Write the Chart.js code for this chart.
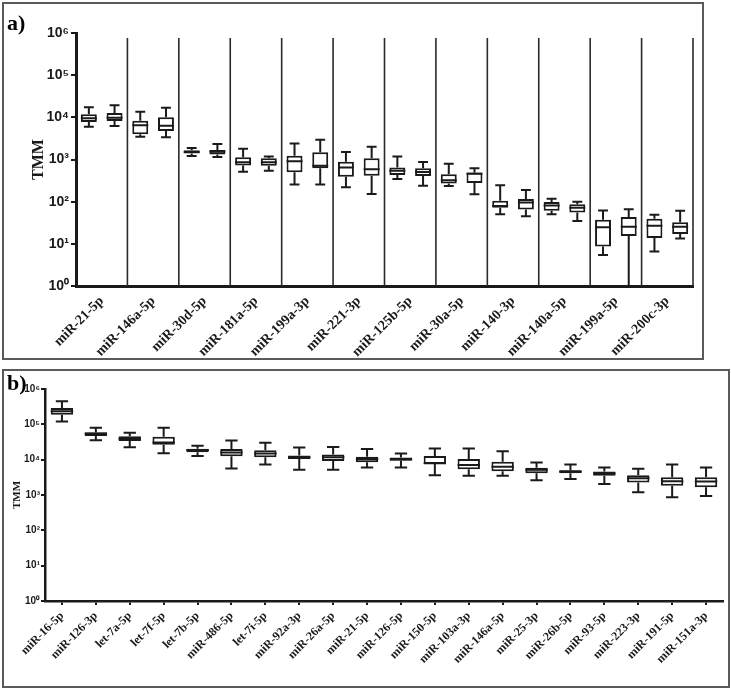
<!DOCTYPE html>
<html><head><meta charset="utf-8">
<script src="https://cdn.jsdelivr.net/npm/chart.js@4.4.1/dist/chart.umd.min.js"></script>
<style>
html,body{margin:0;padding:0;background:#fff;width:731px;height:688px;overflow:hidden}
.panel{position:absolute;border:2px solid #5a5a5a;background:#fff;box-sizing:border-box}
#pa{left:2px;top:2px;width:702px;height:358px}
#pb{left:2px;top:369px;width:728px;height:319px}
.tag{position:absolute;font:bold 22px "Liberation Serif",serif;color:#000;line-height:22px}
canvas{position:absolute;left:0;top:0}
</style></head>
<body>
<div class="panel" id="pa"><canvas id="ca" width="698" height="354"></canvas><div class="tag" style="left:3px;top:8px">a)</div></div>
<div class="panel" id="pb"><canvas id="cb" width="724" height="315"></canvas><div class="tag" style="left:3px;top:1px">b)</div></div>
<script>
// ---------- Panel a ----------
const labelsA = ['miR-21-5p','miR-146a-5p','miR-30d-5p','miR-181a-5p','miR-199a-3p','miR-221-3p','miR-125b-5p','miR-30a-5p','miR-140-3p','miR-140a-5p','miR-199a-5p','miR-200c-3p'];
const groupsA = ['1','2'];
const aMin = [6000,6200, 3470,3380, 1210,1150, 510,540, 257,257, 220,152, 345,237, 236,149, 50,45, 50,35, 5.4,1, 6.6,13.3];
const aQ1  = [7700,8200, 3960,4770, 1380,1320, 725,710, 500,617, 390,413, 430,405, 268,276, 72,65, 61,55, 8.7,15.3, 13.8,17];
const aMed = [9500,9800, 6450,6300, 1500,1540, 855,860, 910,713, 650,585, 540,505, 323,460, 79,96, 81,72, 24.6,25.5, 27,25.5];
const aQ3  = [11800,12700, 8300,10000, 1660,1690, 1130,1070, 1230,1480, 890,1070, 650,620, 445,490, 105,115, 98,87, 37,43, 39.5,32.3];
const aMax = [17300,19300, 13600,16900, 1870,2340, 1810,1170, 2410,2950, 1510,2000, 1170,870, 795,617, 244,190, 117,100, 62,66, 49,61];
const tickExpA = [0,1,2,3,4,5,6];

// ---------- Panel b ----------
const labelsB = ['miR-16-5p','miR-126-3p','let-7a-5p','let-7f-5p','let-7b-5p','miR-486-5p','let-7i-5p','miR-92a-3p','miR-26a-5p','miR-21-5p','miR-126-5p','miR-150-5p','miR-103a-3p','miR-146a-5p','miR-25-3p','miR-26b-5p','miR-93-5p','miR-223-3p','miR-191-5p','miR-151a-3p'];
const bMin = [121000,35500,22600,15300,12600,5600,7300,5150,5150,6000,6000,3600,3500,3500,2600,2850,2050,1200,870,940];
const bQ1  = [187000,47000,33500,26500,16300,12400,11800,10500,9100,8500,9300,7600,5350,4700,4150,4150,3500,2240,1830,1660];
const bMed = [234000,54000,39000,30800,18700,15900,14900,11800,11800,10500,10300,7900,7100,6300,5150,4600,4050,3000,2450,2400];
const bQ3  = [290000,60000,45700,44600,20300,20000,18600,13100,14000,12000,11500,12800,10500,8700,5900,5000,4600,3650,3200,3200];
const bMax = [447000,80000,58000,80000,24600,35000,30000,22100,23000,20000,14900,20700,20700,17400,8300,7300,6000,5500,7300,6000];
const tickExpB = [0,1,2,3,4,5,6];

// ---------- styles ----------
const INK = '#1a1a1a';
const fillA = aQ1.map((_, i) => i === 5 ? '#333333' : '#ffffff');
const fillB = ['#ffffff','#8a8a8a','#e0e0e0','#ffffff','#9a9a9a','#ffffff','#ffffff','#444444','#ffffff','#9a9a9a','#aaaaaa','#ffffff','#ffffff','#ffffff','#cccccc','#333333','#555555','#ffffff','#ffffff','#ffffff'];
const SUP = {'0':'\u2070','1':'\u00B9','2':'\u00B2','3':'\u00B3','4':'\u2074','5':'\u2075','6':'\u2076','7':'\u2077','8':'\u2078','9':'\u2079'};
const fmtPow = v => '10' + String(Math.round(Math.log10(v))).split('').map(c => SUP[c]).join('');

const boxPlugin = {
  id: 'boxWhisk',
  afterDatasetsDraw(chart, args, o) {
    const meta = chart.getDatasetMeta(0);
    const y = chart.scales.y, ctx = chart.ctx;
    ctx.save();
    ctx.strokeStyle = INK; ctx.lineWidth = o.lw; ctx.lineCap = 'butt';
    meta.data.forEach((bar, i) => {
      const x = bar.x, w = bar.width, cw = w * o.cap / 2;
      const yMin = y.getPixelForValue(o.min[i]), yQ1 = y.getPixelForValue(o.q1[i]);
      const yMed = y.getPixelForValue(o.med[i]), yQ3 = y.getPixelForValue(o.q3[i]);
      const yMax = y.getPixelForValue(o.max[i]);
      ctx.beginPath();
      ctx.moveTo(x, yQ3); ctx.lineTo(x, yMax);
      ctx.moveTo(x - cw, yMax); ctx.lineTo(x + cw, yMax);
      ctx.moveTo(x, yQ1); ctx.lineTo(x, yMin);
      ctx.moveTo(x - cw, yMin); ctx.lineTo(x + cw, yMin);
      ctx.moveTo(x - w / 2, yMed); ctx.lineTo(x + w / 2, yMed);
      ctx.stroke();
    });
    ctx.restore();
  }
};

const sepPlugin = {
  id: 'sep',
  beforeDatasetsDraw(chart, args, o) {
    if (!o.on) return;
    const x = chart.scales.x, y = chart.scales.y, ctx = chart.ctx;
    const top = y.getPixelForValue(1e6) + 5, bot = y.bottom;
    ctx.save(); ctx.strokeStyle = '#2a2a2a'; ctx.lineWidth = 1.6;
    for (let k = 1; k <= labelsA.length; k++) {
      const px = x.getPixelForValue(2 * k - 0.5);
      ctx.beginPath(); ctx.moveTo(px, bot); ctx.lineTo(px, top); ctx.stroke();
    }
    ctx.restore();
  }
};

const slotsA = labelsA.flatMap(l => groupsA.map(g => l + ' (' + g + ')'));

new Chart(document.getElementById('ca'), {
  type: 'bar',
  data: { labels: slotsA, datasets: [{
    data: aQ1.map((q, i) => [q, aQ3[i]]),
    backgroundColor: fillA, borderColor: INK, borderWidth: 2, borderSkipped: false,
    barPercentage: 0.62, categoryPercentage: 1, xAxisID: 'x'
  }]},
  plugins: [sepPlugin, boxPlugin],
  options: {
    responsive: false, animation: false,
    layout: { padding: { top: 29, right: 9, left: 0, bottom: 0 } },
    plugins: {
      legend: { display: false }, tooltip: { enabled: false },
      sep: { on: true },
      boxWhisk: { min: aMin, q1: aQ1, med: aMed, q3: aQ3, max: aMax, cap: 0.62, lw: 2 }
    },
    scales: {
      x: { type: 'category', labels: slotsA, display: false, offset: true },
      xl: { type: 'category', labels: labelsA, position: 'bottom', offset: true,
        grid: { display: false, drawTicks: false },
        border: { display: true, color: INK, width: 3 },
        ticks: { autoSkip: false, minRotation: 45, maxRotation: 45, padding: 7, color: INK,
          font: { family: 'Liberation Serif', weight: 'bold', size: 14 } },
        afterFit(s) { s.height = 72; } },
      y: { type: 'logarithmic', min: 1, max: 1e6,
        afterBuildTicks(s) { s.ticks = tickExpA.map(e => ({ value: Math.pow(10, e) })); },
        afterFit(s) { s.width = 72; },
        grid: { display: true, drawOnChartArea: false, drawTicks: true, tickLength: 5, color: INK, lineWidth: 2 },
        border: { display: true, color: INK, width: 3 },
        ticks: { callback: v => fmtPow(v), color: INK, padding: 2,
          font: { family: 'Liberation Sans', weight: 'bold', size: 14 } },
        title: { display: true, text: 'TMM', color: INK, padding: { top: 25 },
          font: { family: 'Liberation Serif', weight: 'bold', size: 16 } } }
    }
  }
});

new Chart(document.getElementById('cb'), {
  type: 'bar',
  data: { labels: labelsB, datasets: [{
    data: bQ1.map((q, i) => [q, bQ3[i]]),
    backgroundColor: fillB, borderColor: INK, borderWidth: 2, borderSkipped: false,
    barPercentage: 0.66, categoryPercentage: 1
  }]},
  plugins: [boxPlugin],
  options: {
    responsive: false, animation: false,
    layout: { padding: { top: 18, right: 5, left: 0, bottom: 0 } },
    plugins: {
      legend: { display: false }, tooltip: { enabled: false },
      boxWhisk: { min: bMin, q1: bQ1, med: bMed, q3: bQ3, max: bMax, cap: 0.55, lw: 2 }
    },
    scales: {
      x: { type: 'category', offset: true,
        grid: { display: true, drawOnChartArea: false, drawTicks: true, tickLength: 4, color: INK, lineWidth: 2, offset: false },
        border: { display: true, color: INK, width: 2.5 },
        ticks: { autoSkip: false, minRotation: 45, maxRotation: 45, padding: 4, color: INK,
          font: { family: 'Liberation Serif', weight: 'bold', size: 12 } },
        afterFit(s) { s.height = 85; } },
      y: { type: 'logarithmic', min: 1, max: 1e6,
        afterBuildTicks(s) { s.ticks = tickExpB.map(e => ({ value: Math.pow(10, e) })); },
        afterFit(s) { s.width = 41; },
        grid: { display: true, drawOnChartArea: false, drawTicks: true, tickLength: 4, color: INK, lineWidth: 2 },
        border: { display: true, color: INK, width: 2.5 },
        ticks: { callback: v => fmtPow(v), color: INK, padding: 1,
          font: { family: 'Liberation Sans', weight: 'bold', size: 10 } },
        title: { display: true, text: 'TMM', color: INK, padding: { top: 7 },
          font: { family: 'Liberation Serif', weight: 'bold', size: 11 } } }
    }
  }
});
</script>
</body></html>
